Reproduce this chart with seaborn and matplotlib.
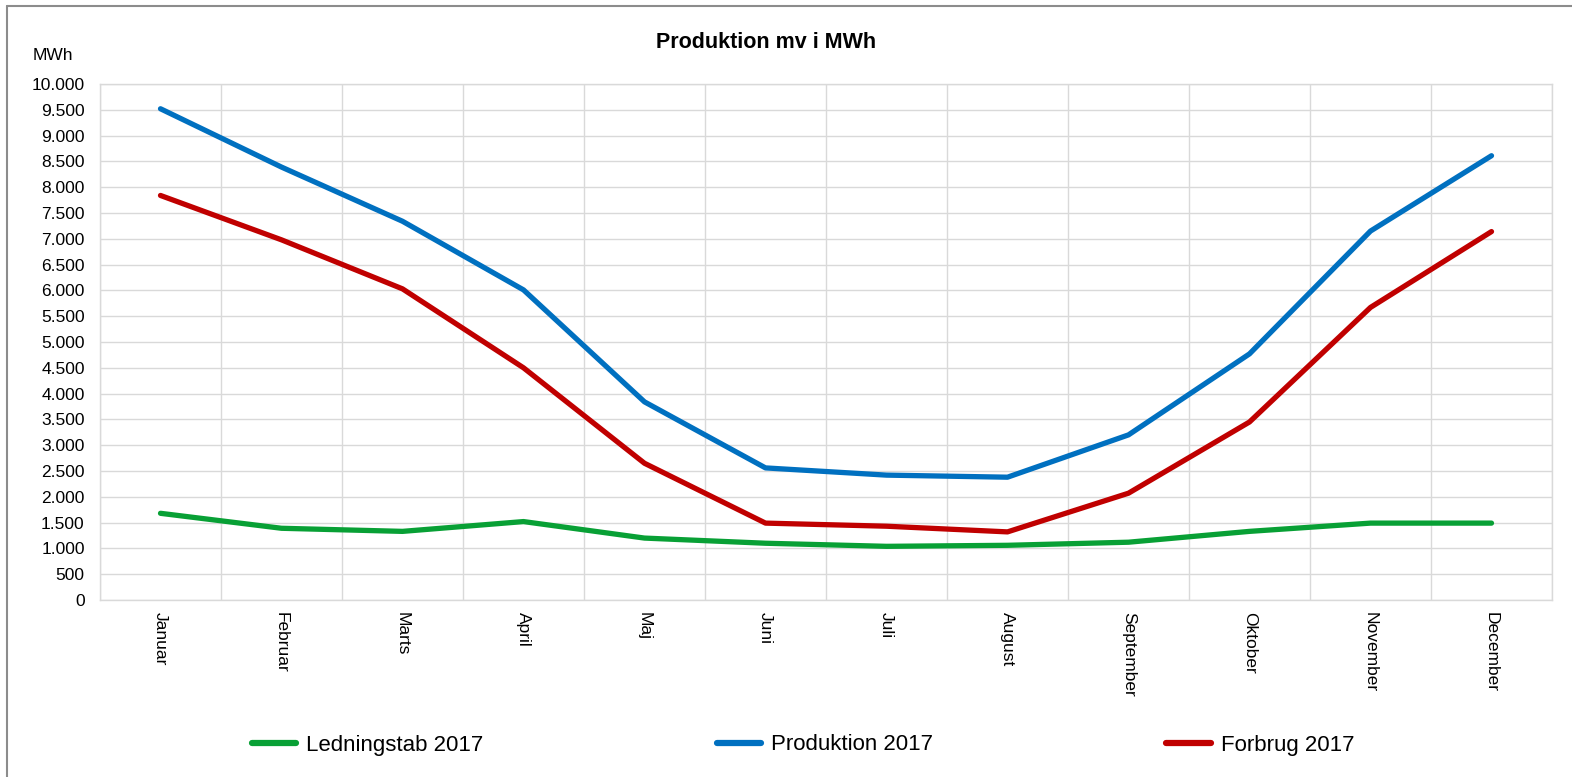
import matplotlib

matplotlib.use("Agg")

import matplotlib.pyplot as plt
import numpy as np
import pandas as pd
import seaborn as sns
from matplotlib.lines import Line2D
from matplotlib.ticker import FuncFormatter, MultipleLocator

# Values (MWh per month)
months = [
    "Januar", "Februar", "Marts", "April", "Maj", "Juni",
    "Juli", "August", "September", "Oktober", "November", "December",
]
ledningstab_2017 = [1680, 1390, 1330, 1520, 1200, 1100, 1040, 1060, 1120, 1330, 1490, 1490]
produktion_2017 = [9520, 8390, 7340, 6010, 3840, 2560, 2420, 2380, 3200, 4770, 7150, 8610]
forbrug_2017 = [7840, 6980, 6030, 4500, 2650, 1490, 1430, 1320, 2070, 3450, 5670, 7140]

series_names = ["Ledningstab 2017", "Produktion 2017", "Forbrug 2017"]
series_colors = ["#08A035", "#0070C0", "#C00000"]

df = pd.DataFrame(
    {
        "month_idx": np.tile(np.arange(len(months)), 3),
        "value": ledningstab_2017 + produktion_2017 + forbrug_2017,
        "serie": np.repeat(series_names, len(months)),
    }
)

sns.set_theme(style="white")
plt.rcParams["font.family"] = ["Liberation Sans", "DejaVu Sans"]
plt.rcParams["text.color"] = "black"
plt.rcParams["xtick.color"] = "black"
plt.rcParams["ytick.color"] = "black"

fig = plt.figure(figsize=(15.72, 7.77), dpi=100)
ax = fig.add_axes([100 / 1572, 177 / 777, 1452 / 1572, 516 / 777])

sns.lineplot(
    data=df,
    x="month_idx",
    y="value",
    hue="serie",
    hue_order=series_names,
    palette=series_colors,
    linewidth=3.8,
    legend=False,
    ax=ax,
)
for line in ax.get_lines():
    line.set_solid_capstyle("round")
    line.set_solid_joinstyle("round")

ax.set_xlim(-0.5, len(months) - 0.5)
ax.set_ylim(0, 10000)
ax.set_xticks(np.arange(len(months)))
ax.set_xticklabels(months, rotation=270, ha="center", va="top", fontsize=12.5, color="black")
ax.set_xticks(np.arange(len(months) + 1) - 0.5, minor=True)
ax.yaxis.set_major_locator(MultipleLocator(500))
ax.yaxis.set_major_formatter(FuncFormatter(lambda v, _: f"{int(v):,}".replace(",", ".")))
ax.tick_params(axis="y", labelsize=12.5, pad=11, length=0, labelcolor="black")
ax.tick_params(axis="x", which="both", pad=9, length=0)
ax.set_xlabel("")
ax.set_ylabel("")

ax.grid(False)
ax.grid(axis="y", which="major", color="#d9d9d9", linewidth=1)
ax.grid(axis="x", which="minor", color="#d9d9d9", linewidth=1)
ax.set_axisbelow(True)
for spine in ax.spines.values():
    spine.set_color("#d9d9d9")
    spine.set_linewidth(1)

fig.text(766 / 1572, 1 - 43 / 777, "Produktion mv i MWh", ha="center", va="center",
         fontsize=15.5, fontweight="bold", color="black")
fig.text(33 / 1572, 1 - 55 / 777, "MWh", ha="left", va="center", fontsize=12.5, color="black")

handles = [
    Line2D([0], [0], color=c, linewidth=4.5, solid_capstyle="round") for c in series_colors
]
leg = fig.legend(
    handles,
    series_names,
    loc="center",
    bbox_to_anchor=(803 / 1572, 32 / 777),
    ncol=3,
    frameon=False,
    fontsize=16,
    handlelength=2.0,
    handletextpad=0.45,
    columnspacing=10.5,
)
for txt in leg.get_texts():
    txt.set_color("black")

# outer chart-area frame (top and left edges visible in the reference)
fig.add_artist(Line2D([7 / 1572, 1], [1 - 6 / 777, 1 - 6 / 777], color="#8c8c8c", linewidth=1.5))
fig.add_artist(Line2D([7 / 1572, 7 / 1572], [0, 1 - 6 / 777], color="#8c8c8c", linewidth=1.5))

fig.savefig("out.png", dpi=100, facecolor="white")
plt.close(fig)
